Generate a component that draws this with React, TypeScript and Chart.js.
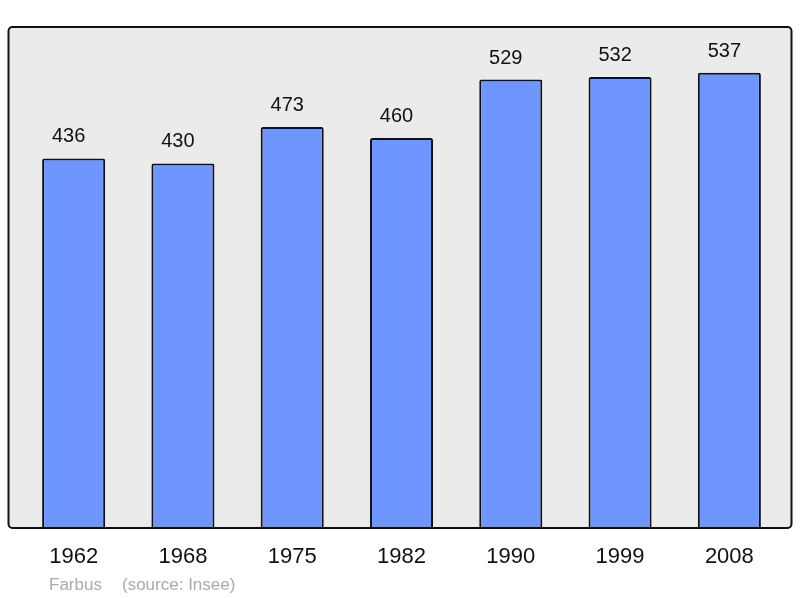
import React, { useEffect, useRef } from "react";
import { Chart, registerables } from "chart.js";

Chart.register(...registerables);

const years = ["1962", "1968", "1975", "1982", "1990", "1999", "2008"];
const population = [436, 430, 473, 460, 529, 532, 537];
const placeName = "Farbus";
const sourceText = "(source: Insee)";

const FONT = "'Liberation Sans', Arial, sans-serif";

const framePlugin = {
  id: "frame",
  beforeDraw(chart: any) {
    const { ctx, chartArea } = chart;
    const l = chartArea.left - 10.5;
    const r = chartArea.right + 7.5;
    const t = chartArea.top;
    const b = chartArea.bottom;
    ctx.save();
    ctx.fillStyle = "#ffffff";
    ctx.fillRect(0, 0, chart.width, chart.height);
    ctx.beginPath();
    ctx.roundRect(l, t, r - l, b - t, 4);
    ctx.fillStyle = "#ebebeb";
    ctx.fill();
    ctx.restore();
  },
  afterDatasetsDraw(chart: any) {
    const { ctx, chartArea } = chart;
    const l = chartArea.left - 10.5;
    const r = chartArea.right + 7.5;
    const t = chartArea.top;
    const b = chartArea.bottom;
    ctx.save();
    ctx.beginPath();
    ctx.roundRect(l, t, r - l, b - t, 4);
    ctx.lineWidth = 2;
    ctx.strokeStyle = "#111111";
    ctx.stroke();

    const meta = chart.getDatasetMeta(0);
    ctx.fillStyle = "#111111";
    ctx.font = `20px ${FONT}`;
    ctx.textAlign = "center";
    ctx.textBaseline = "alphabetic";
    meta.data.forEach((bar: any, i: number) => {
      ctx.fillText(String(population[i]), bar.x - 5, bar.y - 16);
    });

    ctx.fillStyle = "#aaaaaa";
    ctx.font = `17px ${FONT}`;
    ctx.textAlign = "left";
    ctx.fillText(placeName, 49, 590);
    ctx.fillText(sourceText, 122, 590);
    ctx.restore();
  },
};

export default function App() {
  const ref = useRef<HTMLCanvasElement>(null);
  useEffect(() => {
    const chart = new Chart(ref.current!, {
      type: "bar",
      data: {
        labels: years,
        datasets: [
          {
            data: population,
            backgroundColor: "#6f96ff",
            borderColor: "#111111",
            borderWidth: 2,
            borderRadius: 2,
            borderSkipped: "bottom",
            barPercentage: 0.577,
            categoryPercentage: 1,
          },
        ],
      },
      options: {
        animation: false,
        responsive: false,
        layout: { padding: { left: 19, right: 16, top: 27, bottom: 0 } },
        plugins: { legend: { display: false }, tooltip: { enabled: false } },
        scales: {
          y: { display: false, min: 0, max: 591 },
          x: {
            grid: { display: false },
            border: { display: false },
            ticks: {
              color: "#111111",
              font: { family: FONT, size: 22 },
              padding: 8,
              maxRotation: 0,
            },
            afterFit(scale: any) {
              scale.height = 70;
            },
          },
        },
      },
      plugins: [framePlugin],
    });
    return () => chart.destroy();
  }, []);
  return (
    <div style={{ position: "absolute", left: 0, top: 0, width: 800, height: 598 }}>
      <canvas ref={ref} width={800} height={598} />
    </div>
  );
}
